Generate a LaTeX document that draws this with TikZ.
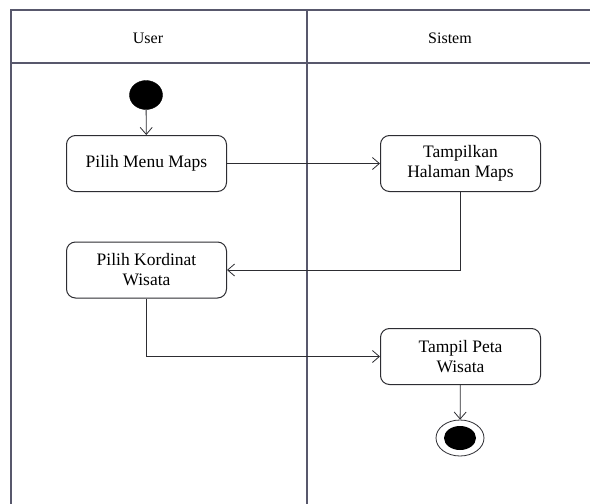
\documentclass[tikz,border=0pt]{standalone}
\usepackage{fontspec}
\setmainfont{Liberation Serif}
\usetikzlibrary{arrows.meta,shapes.geometric}
\definecolor{laneline}{RGB}{88,88,108}
\definecolor{boxline}{RGB}{45,45,50}
\begin{document}
\begin{tikzpicture}[x=1pt,y=-1pt,
  lane/.style={draw=laneline,line width=1.6pt},
  lanetitle/.style={font=\fontsize{16}{18}\selectfont,text=black},
  action/.style={draw=boxline,line width=1pt,rounded corners=9pt,
    minimum width=160pt,minimum height=56pt,align=center,inner sep=2pt,
    font=\fontsize{17.5}{20}\selectfont,text=black},
  initial/.style={ellipse,fill=black,draw=black,minimum width=33pt,minimum height=29pt,inner sep=0pt},
  finalring/.style={ellipse,draw=boxline,line width=0.8pt,minimum width=48pt,minimum height=36pt,inner sep=0pt},
  finaldot/.style={ellipse,fill=black,minimum width=32pt,minimum height=24pt,inner sep=0pt},
  flow/.style={draw=boxline,line width=0.8pt,-{Straight Barb[length=7pt,width=12pt]}}
]
\useasboundingbox (0,0) rectangle (590,504);
\clip (0,0) rectangle (590,504);
\fill[white] (0,0) rectangle (590,504);

% swimlane frame
\draw[lane] (600,10) -- (11,10) -- (11,510);
\draw[lane] (11,63) -- (600,63);
\draw[lane] (307,10) -- (307,510);
\node[lanetitle] (userlane) at (148,38) {User};
\node[lanetitle] (sistemlane) at (450,38) {Sistem};

% activity nodes
\node[initial] (start) at (146,95) {};
\node[action] (menu) at (146.5,163.5) {Pilih Menu Maps};
\node[action] (halaman) at (460.5,163.5) {Tampilkan\\Halaman Maps};
\node[action] (kordinat) at (146.5,270) {Pilih Kordinat\\Wisata};
\node[action] (peta) at (460.5,356.5) {Tampil Peta\\Wisata};
\node[finalring] (end) at (460,438) {};
\node[finaldot] (enddot) at (end.center) {};

% control flow
\draw[flow] (start) -- (menu);
\draw[flow] (menu) -- (halaman);
\draw[flow] (halaman.south) |- (kordinat.east);
\draw[flow] (kordinat.south) |- (peta.west);
\draw[flow] (peta) -- (end);
\end{tikzpicture}
\end{document}
